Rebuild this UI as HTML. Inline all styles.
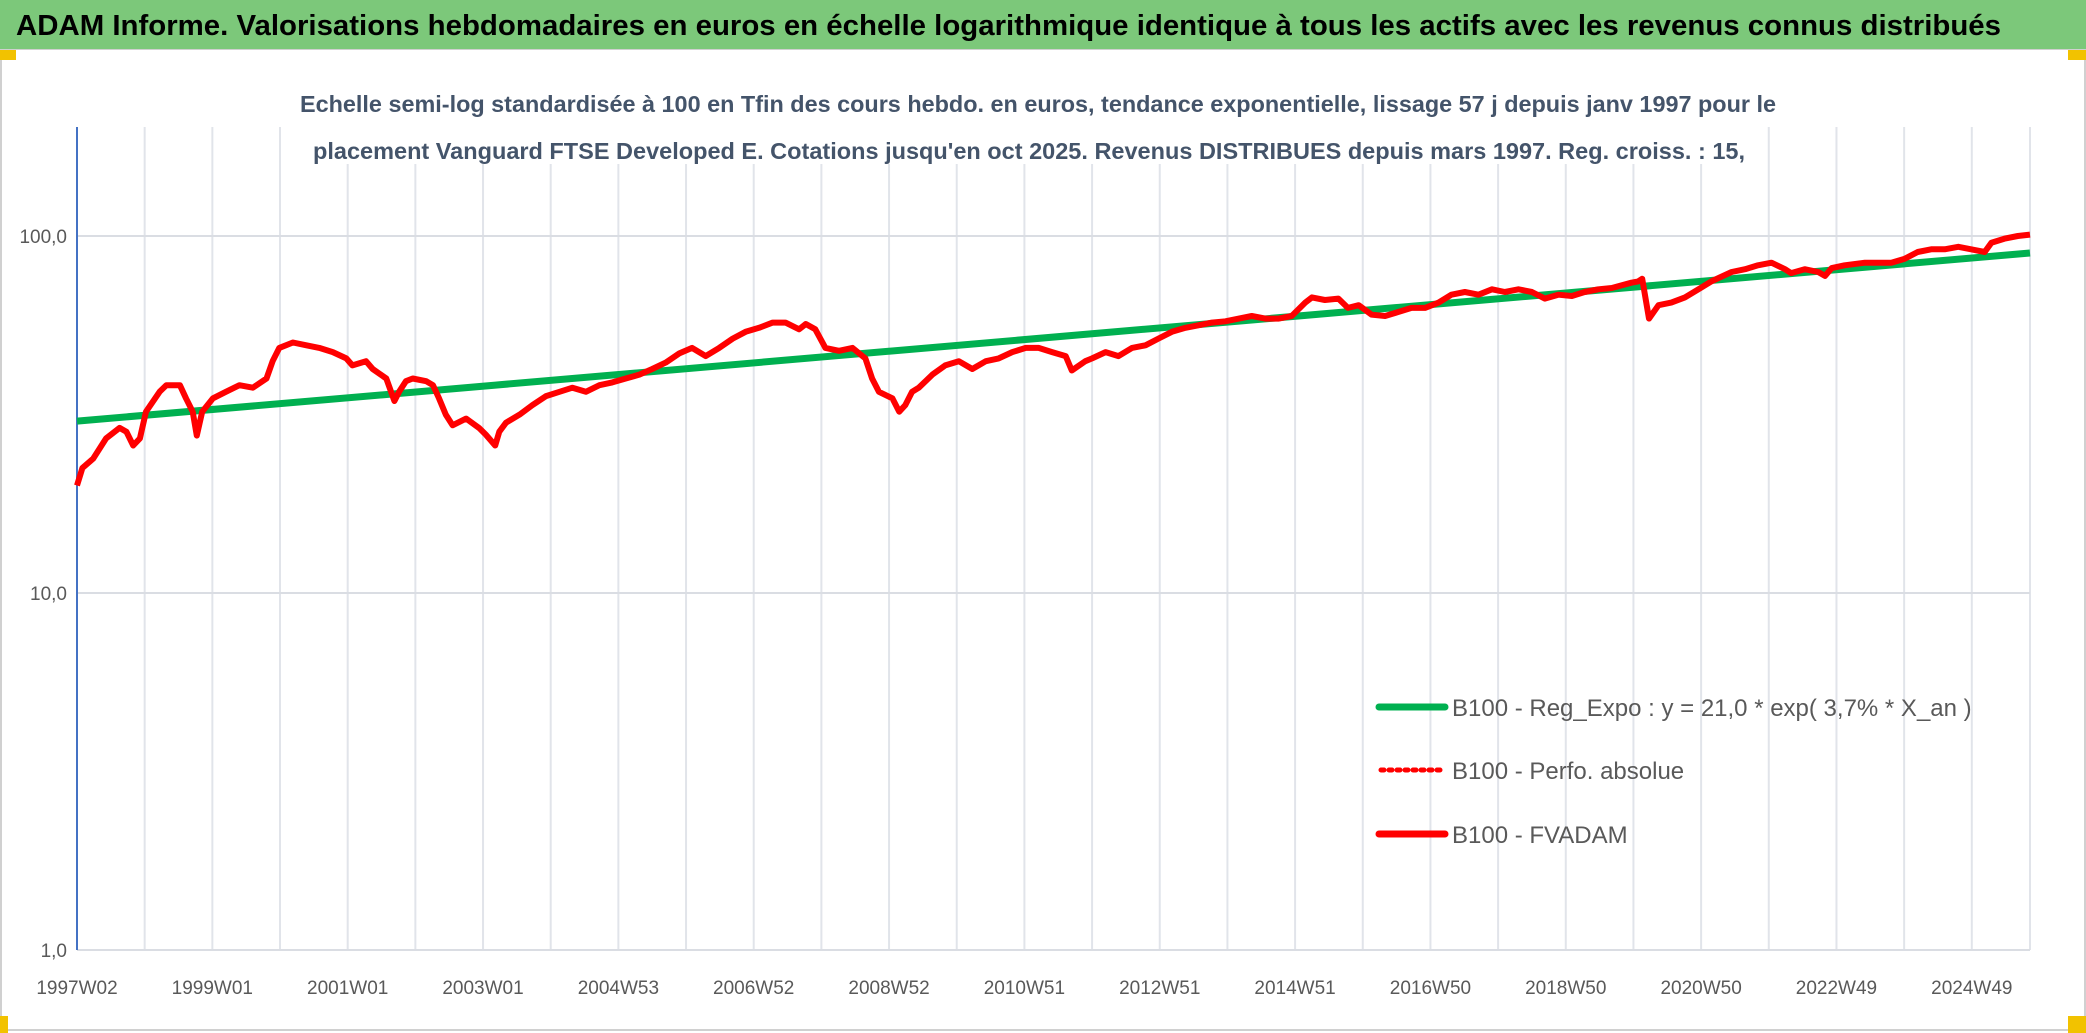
<!DOCTYPE html>
<html><head><meta charset="utf-8"><style>
html,body{margin:0;padding:0;background:#fff;}
svg{display:block;font-family:"Liberation Sans",sans-serif;}
</style></head><body>
<svg id="chart" width="2086" height="1033" viewBox="0 0 2086 1033" xmlns="http://www.w3.org/2000/svg">
<rect x="0" y="0" width="2086" height="1033" fill="#fff"/>
<rect x="1" y="49" width="2084" height="981" fill="none" stroke="#d0d0d0" stroke-width="2"/>
<rect x="0" y="0" width="2086" height="49" fill="#7cc87a"/>
<rect x="0" y="50" width="16" height="10" fill="#f2c200"/>
<rect x="2068" y="50" width="18" height="10" fill="#f2c200"/>
<rect x="0" y="1016" width="8" height="17" fill="#f2c200"/>
<rect x="2068" y="1016" width="18" height="17" fill="#f2c200"/>
<text x="16" y="35" font-size="29" font-weight="bold" fill="#000" textLength="1985" lengthAdjust="spacingAndGlyphs">ADAM Informe. Valorisations hebdomadaires en euros en échelle logarithmique identique à tous les actifs avec les revenus connus distribués</text>
<g id="grid"></g>
<rect x="305" y="126" width="1450" height="38" fill="#fff"/>
<text x="300" y="112" font-size="23" font-weight="bold" fill="#44546a" textLength="1476" lengthAdjust="spacingAndGlyphs">Echelle semi-log standardisée à 100 en Tfin des cours hebdo. en euros, tendance exponentielle, lissage 57 j depuis janv 1997 pour le</text>
<text x="313" y="159" font-size="23" font-weight="bold" fill="#44546a" textLength="1432" lengthAdjust="spacingAndGlyphs">placement Vanguard FTSE Developed E. Cotations jusqu'en oct 2025. Revenus DISTRIBUES depuis mars 1997. Reg. croiss. : 15,</text>
<g id="axes"></g>
<g id="series"></g>
<g>
<line x1="1379" y1="707" x2="1445" y2="707" stroke="#00b050" stroke-width="7" stroke-linecap="round"/>
<text x="1452" y="716" font-size="24" fill="#595959">B100 - Reg_Expo : y = 21,0 * exp( 3,7% *  X_an )</text>
<line x1="1381" y1="770" x2="1443" y2="770" stroke="#ff0000" stroke-width="5" stroke-dasharray="3,5" stroke-linecap="round"/>
<text x="1452" y="779" font-size="24" fill="#595959">B100 - Perfo. absolue</text>
<line x1="1379" y1="834" x2="1445" y2="834" stroke="#ff0000" stroke-width="7" stroke-linecap="round"/>
<text x="1452" y="843" font-size="24" fill="#595959">B100 - FVADAM</text>
</g>
</svg>
<script>
const yTickValues = [1, 10, 100];
const yTickLabels = ["1,0", "10,0", "100,0"];
const xTickYears = [0, 2, 4, 6, 8, 10, 12, 14, 16, 18, 20, 22, 24, 26, 28];
const xTickLabels = ["1997W02","1999W01","2001W01","2003W01","2004W53","2006W52","2008W52","2010W51","2012W51","2014W51","2016W50","2018W50","2020W50","2022W49","2024W49"];
const trendT = [0, 28.86];
const trendV = [30.3, 89.6];
const fvT = [0,.08,.24,.43,.63,.73,.83,.93,1.02,1.22,1.32,1.52,1.61,1.71,1.77,1.85,2.01,2.20,2.40,2.60,2.80,2.89,2.99,3.19,3.39,3.58,3.78,3.98,4.07,4.27,4.37,4.57,4.69,4.76,4.86,4.96,5.16,5.26,5.35,5.45,5.55,5.75,5.94,6.04,6.18,6.24,6.34,6.54,6.73,6.93,7.13,7.32,7.52,7.72,7.91,8.11,8.31,8.50,8.70,8.90,9.09,9.29,9.49,9.69,9.88,10.08,10.28,10.47,10.67,10.77,10.91,11.06,11.26,11.46,11.65,11.75,11.85,12.05,12.15,12.24,12.34,12.44,12.64,12.83,13.03,13.23,13.43,13.62,13.82,14.02,14.21,14.41,14.61,14.70,14.90,15.00,15.20,15.39,15.59,15.79,15.98,16.18,16.38,16.57,16.77,16.97,17.17,17.36,17.56,17.76,17.95,18.15,18.25,18.44,18.64,18.78,18.94,19.13,19.33,19.53,19.72,19.92,20.12,20.31,20.51,20.71,20.91,21.10,21.30,21.50,21.69,21.89,22.09,22.28,22.48,22.68,22.97,23.07,23.13,23.23,23.37,23.56,23.76,23.96,24.15,24.45,24.65,24.84,25.04,25.24,25.33,25.53,25.73,25.83,25.93,26.12,26.42,26.61,26.81,27.01,27.20,27.40,27.60,27.80,27.99,28.19,28.29,28.48,28.68,28.86];
const fvV = [20.0,22.4,23.8,27.1,29.0,28.3,25.9,27.1,32.2,36.6,38.2,38.2,35.1,32.2,27.6,32.2,35.1,36.6,38.2,37.6,39.9,44.6,48.6,50.3,49.4,48.6,47.3,45.4,43.4,44.6,42.4,39.9,34.5,36.6,39.2,39.9,39.2,38.2,35.1,31.6,29.5,30.8,29.0,27.8,25.9,28.3,30.0,31.6,33.6,35.6,36.6,37.6,36.6,38.2,38.9,39.9,40.9,42.4,44.2,46.9,48.6,46.1,48.6,51.6,53.9,55.3,57.2,57.2,54.8,56.7,54.8,48.6,47.7,48.6,45.4,39.9,36.6,35.1,32.2,33.6,36.6,37.6,40.9,43.4,44.6,42.4,44.6,45.4,47.3,48.6,48.6,47.3,46.1,42.0,44.6,45.4,47.3,46.1,48.6,49.4,51.6,53.9,55.3,56.2,57.2,57.7,58.7,59.7,58.7,58.7,59.7,65.1,67.3,66.2,66.8,62.9,64.0,60.2,59.7,61.3,62.9,62.9,65.1,68.5,69.7,68.5,70.9,69.7,70.9,69.7,66.8,68.5,67.9,69.7,70.9,71.5,74.0,74.6,75.9,58.7,64.0,65.1,67.3,70.9,74.6,79.3,80.7,82.8,84.2,80.7,78.7,80.7,79.3,77.3,81.3,82.8,84.2,84.2,84.2,86.4,90.2,91.8,91.8,93.3,91.8,90.2,95.8,98.3,100,100.9];

const NS = "http://www.w3.org/2000/svg";
const X0 = 77, X1 = 2030, TMAX = 28.86;
const Y1v = 950, decade = 357;
function xs(t){ return X0 + t / TMAX * (X1 - X0); }
function ys(v){ return Y1v - Math.log10(v) * decade; }
function mk(tag, attrs, parent){
  const e = document.createElementNS(NS, tag);
  for (const k in attrs) e.setAttribute(k, attrs[k]);
  parent.appendChild(e); return e;
}
const grid = document.getElementById('grid');
const axes = document.getElementById('axes');
const series = document.getElementById('series');
for (let t = 1; t <= Math.floor(TMAX); t++) {
  const l = mk('line', {x1: xs(t), x2: xs(t), y1: 127, y2: 950, stroke: '#e1e4ea', 'stroke-width': 2}, grid);
  
  
}
mk('line', {x1: X1, x2: X1, y1: 127, y2: 950, stroke: '#e1e4ea', 'stroke-width': 2}, grid);
yTickValues.forEach((v, i) => {
  const l = mk('line', {x1: X0, x2: X1, y1: ys(v), y2: ys(v), stroke: '#dadde3', 'stroke-width': 2}, grid);
  
  
  const tx = mk('text', {x: 67, y: ys(v) + 7, 'text-anchor': 'end', 'font-size': 19, fill: '#595959'}, axes);
  tx.textContent = yTickLabels[i];
  
  
});
const ax = mk('line', {x1: X0, x2: X0, y1: 127, y2: 950, stroke: '#4472c4', 'stroke-width': 2}, axes);


xTickYears.forEach((t, i) => {
  const tx = mk('text', {x: xs(t), y: 994, 'text-anchor': 'middle', 'font-size': 19, fill: '#595959'}, axes);
  tx.textContent = xTickLabels[i];
  
  
});
const tr = mk('line', {x1: xs(trendT[0]), y1: ys(trendV[0]), x2: xs(trendT[1]), y2: ys(trendV[1]), stroke: '#00b050', 'stroke-width': 7}, series);


let d = '';
fvT.forEach((t, i) => { d += (i ? 'L' : 'M') + xs(t).toFixed(1) + ',' + ys(fvV[i]).toFixed(1); });
const fl = mk('path', {d: d, fill: 'none', stroke: '#ff0000', 'stroke-width': 6, 'stroke-linejoin': 'round'}, series);


</script>
</body></html>
